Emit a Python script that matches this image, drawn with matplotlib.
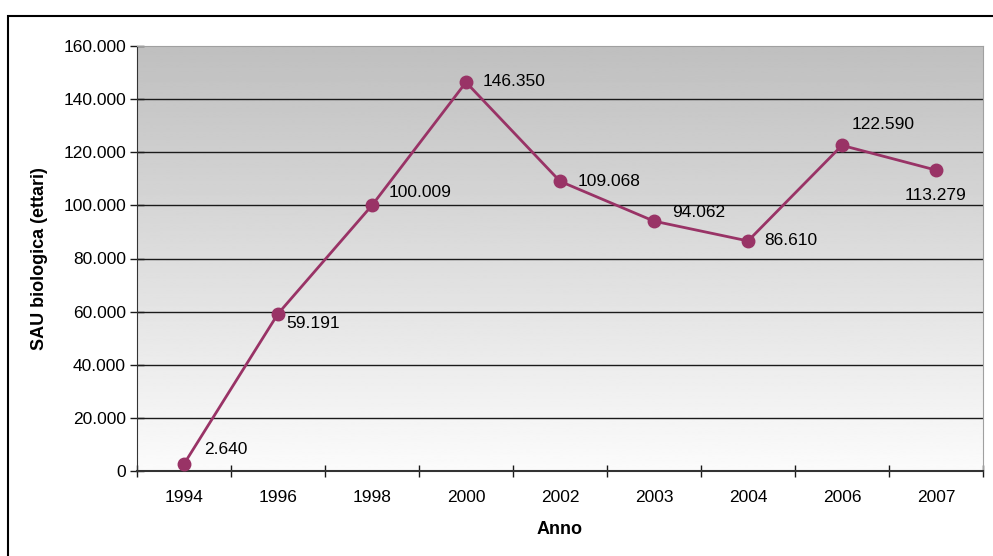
import matplotlib
matplotlib.use("Agg")
import matplotlib.pyplot as plt
import numpy as np
from matplotlib.patches import Rectangle

years = ["1994", "1996", "1998", "2000", "2002", "2003", "2004", "2006", "2007"]
values = [2640, 59191, 100009, 146350, 109068, 94062, 86610, 122590, 113279]
labels = ["2.640", "59.191", "100.009", "146.350", "109.068", "94.062", "86.610", "122.590", "113.279"]
yticks = [0, 20000, 40000, 60000, 80000, 100000, 120000, 140000, 160000]
ytick_labels = ["0", "20.000", "40.000", "60.000", "80.000", "100.000", "120.000", "140.000", "160.000"]

# label offsets in pixels (dx, dy), style only
offsets = [(20, 14), (8, -10), (17, 13), (17, 1), (18, 0), (18, 9), (16, 0), (10, 21), (-31, -25)]

plt.rcParams['font.family'] = ['Liberation Sans', 'DejaVu Sans']
W, H = 993, 556
fig = plt.figure(figsize=(W / 100, H / 100), dpi=100)

# figure frame
fig.patches.append(Rectangle((8 / W, -0.05), 1.2, (556 - 16) / H + 0.05,
                             transform=fig.transFigure, fill=False,
                             edgecolor='black', linewidth=1.5))

left, right, top, bottom = 137, 983, 46, 471
ax = fig.add_axes([left / W, 1 - bottom / H, (right - left) / W, (bottom - top) / H])

x = np.arange(len(years))
ax.set_xlim(-0.5, len(years) - 0.5)
ax.set_ylim(0, 160000)

# gradient background
grad = np.linspace(0.985, 0.75, 256).reshape(-1, 1)
grad = np.clip(grad, 0, 1)
ax.imshow(grad, cmap='gray', vmin=0, vmax=1, aspect='auto',
          extent=[-0.5, len(years) - 0.5, 0, 160000], origin='lower', zorder=0,
          interpolation='bilinear')

for yv in yticks[1:-1]:
    ax.axhline(yv, color='#1a1a1a', linewidth=1.0, zorder=1)

ax.plot(x, values, color='#993366', linewidth=2, marker='o', markersize=9,
        markerfacecolor='#993366', markeredgecolor='#993366', zorder=3)

for xi, v, lab, (dx, dy) in zip(x, values, labels, offsets):
    ax.annotate(lab, (xi, v), xytext=(dx * 0.72, dy * 0.72), textcoords='offset points',
                fontsize=12.5, ha='left', va='center', color='black', zorder=4)

ax.set_yticks(yticks)
ax.set_yticklabels(ytick_labels, fontsize=12.5)
ax.set_xticks(x)
ax.set_xticklabels(years, fontsize=12.5)
ax.set_xticks(np.arange(-0.5, len(years), 1), minor=True)
ax.tick_params(axis='x', which='major', length=0, pad=14)
ax.tick_params(axis='x', which='minor', length=8, direction='inout', width=1, color='#1a1a1a')
ax.tick_params(axis='y', length=10, direction='inout', width=1, color='#1a1a1a', pad=3)

ax.set_ylabel("SAU biologica (ettari)", fontsize=13, fontweight='bold', labelpad=11)
ax.set_xlabel("Anno", fontsize=13, fontweight='bold', labelpad=11)

ax.spines['left'].set_color('#333333')
ax.spines['bottom'].set_color('#333333')
ax.spines['bottom'].set_linewidth(1.5)
ax.spines['top'].set_color('#a0a0a0')
ax.spines['right'].set_color('#a0a0a0')

fig.savefig("out.png", dpi=100)
